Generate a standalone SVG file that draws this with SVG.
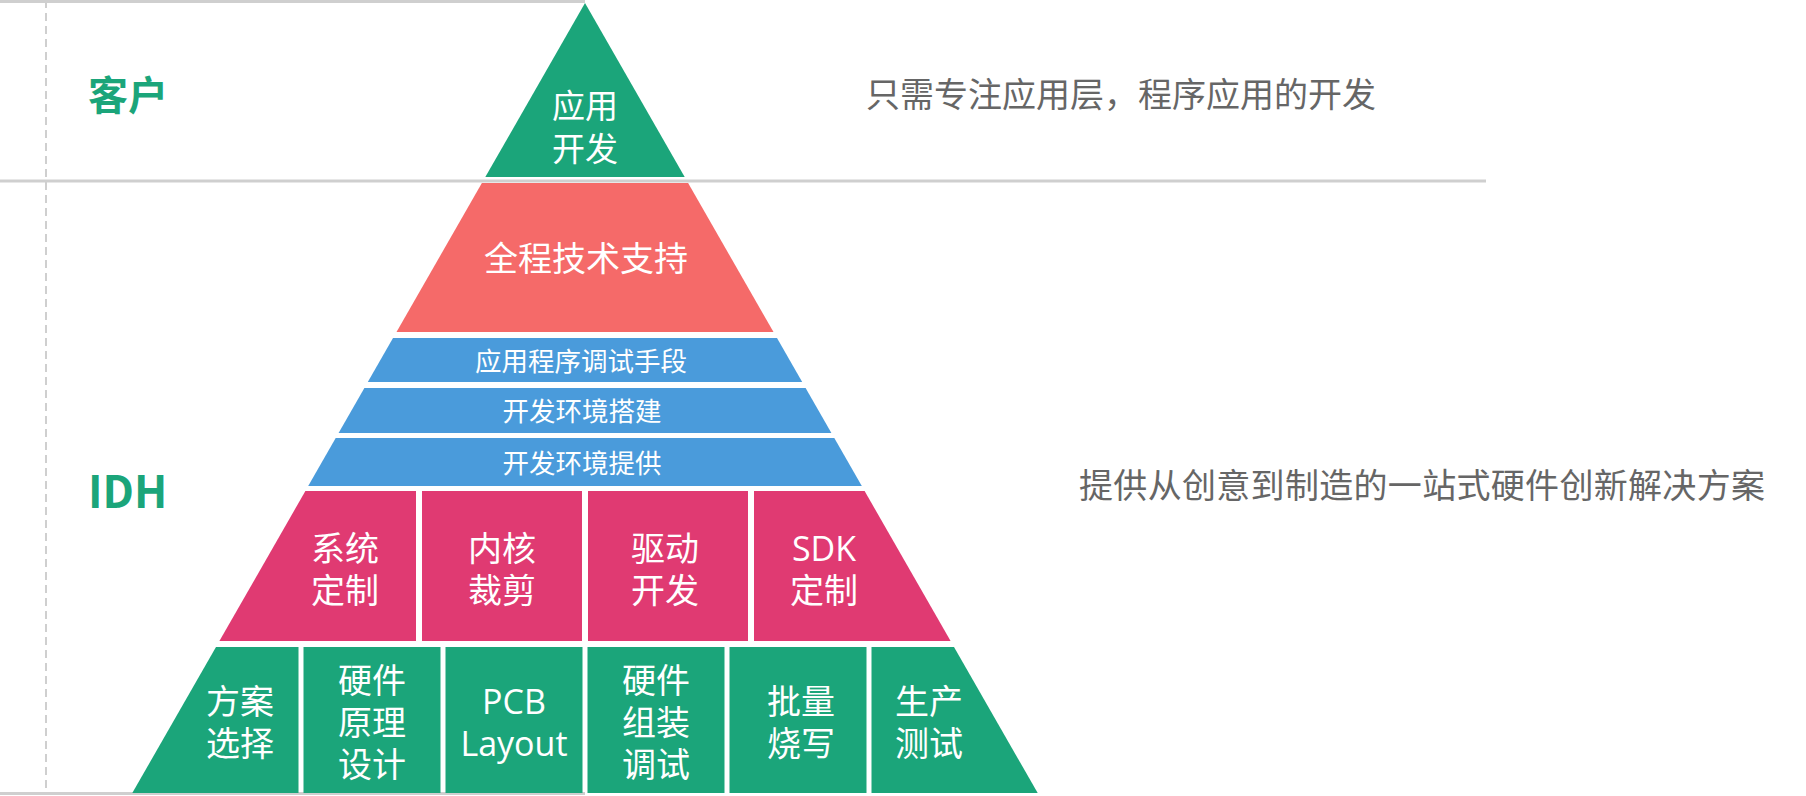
<svg xmlns="http://www.w3.org/2000/svg" width="1806" height="796" viewBox="0 0 1806 796">
<style>
.t{font-family:"Open Sans","Noto Sans CJK SC",sans-serif;fill:#fff;text-anchor:middle;dominant-baseline:central}
.side{font-family:"Noto Sans CJK SC",sans-serif;font-weight:bold;fill:#1ba57a;dominant-baseline:central}
.desc{font-family:"Noto Sans CJK SC",sans-serif;fill:#666;font-size:34px;dominant-baseline:central}
.g{fill:#1ba57a}.r{fill:#f56a69}.b{fill:#4a9bdb}.m{fill:#e03a72}
.ln{stroke:#cfcfcf;stroke-width:3;fill:none}
</style>
<rect width="1806" height="796" fill="#fff"/>
<g id="guides">
<line class="ln" x1="0" y1="1.5" x2="585" y2="1.5"/>
<line class="ln" x1="0" y1="181" x2="1486" y2="181"/>
<line class="ln" x1="0" y1="793.5" x2="585" y2="793.5"/>
<line x1="46" y1="0" x2="46" y2="790" stroke="#cfcfcf" stroke-width="2" stroke-dasharray="8 5"/>
</g>
<g id="label-customer"><text class="side" x="88" y="93" font-size="40">客户</text></g>
<g id="label-idh"><text class="side" x="88" y="489" font-size="44">IDH</text></g>
<g id="desc-customer"><text class="desc" x="866" y="92">只需专注应用层，程序应用的开发</text></g>
<g id="desc-idh"><text class="desc" x="1079" y="483" textLength="686" lengthAdjust="spacing">提供从创意到制造的一站式硬件创新解决方案</text></g>

<g id="app-dev">
<polygon class="g" points="585,3 485.3,177 684.7,177"/>
<text class="t" x="585" y="105" font-size="33">应用</text>
<text class="t" x="585" y="148" font-size="33">开发</text>
</g>
<g id="support">
<polygon class="r" points="481.9,183 688.1,183 773.5,332 396.5,332"/>
<text class="t" x="586" y="258" font-size="34">全程技术支持</text>
</g>
<g id="debug">
<polygon class="b" points="393,338 777,338 802.2,382 367.8,382"/>
<text class="t" x="581" y="361" font-size="26.5">应用程序调试手段</text>
</g>
<g id="env-build">
<polygon class="b" points="364.4,388 805.6,388 831.4,433 338.6,433"/>
<text class="t" x="582" y="411" font-size="26.5">开发环境搭建</text>
</g>
<g id="env-provide">
<polygon class="b" points="335.7,438 834.3,438 861.8,486 308.2,486"/>
<text class="t" x="582" y="463" font-size="26.5">开发环境提供</text>
</g>

<g id="sys-custom">
<polygon class="m" points="305.4,491 416,491 416,641 219.4,641"/>
<text class="t" x="345" y="548" font-size="34">系统</text>
<text class="t" x="345" y="590" font-size="34">定制</text>
</g>
<g id="kernel">
<rect class="m" x="422" y="491" width="160" height="150"/>
<text class="t" x="502" y="548" font-size="34">内核</text>
<text class="t" x="502" y="590" font-size="34">裁剪</text>
</g>
<g id="driver">
<rect class="m" x="588" y="491" width="160" height="150"/>
<text class="t" x="665" y="548" font-size="34">驱动</text>
<text class="t" x="665" y="590" font-size="34">开发</text>
</g>
<g id="sdk">
<polygon class="m" points="754,491 864.6,491 950.6,641 754,641"/>
<text class="t" x="824" y="548" font-size="34">SDK</text>
<text class="t" x="824" y="590" font-size="34">定制</text>
</g>

<g id="scheme">
<polygon class="g" points="216,647 298.5,647 298.5,793 132.3,793"/>
<text class="t" x="240" y="701" font-size="34">方案</text>
<text class="t" x="240" y="743" font-size="34">选择</text>
</g>
<g id="schematic">
<rect class="g" x="303.5" y="647" width="137" height="146"/>
<text class="t" x="372" y="680" font-size="34">硬件</text>
<text class="t" x="372" y="722" font-size="34">原理</text>
<text class="t" x="372" y="764" font-size="34">设计</text>
</g>
<g id="pcb">
<rect class="g" x="445.5" y="647" width="137" height="146"/>
<text class="t" x="514" y="701" font-size="34">PCB</text>
<text class="t" x="514" y="743" font-size="34">Layout</text>
</g>
<g id="assembly">
<rect class="g" x="587.5" y="647" width="137" height="146"/>
<text class="t" x="656" y="680" font-size="34">硬件</text>
<text class="t" x="656" y="722" font-size="34">组装</text>
<text class="t" x="656" y="764" font-size="34">调试</text>
</g>
<g id="flash">
<rect class="g" x="729.5" y="647" width="137" height="146"/>
<text class="t" x="801" y="701" font-size="34">批量</text>
<text class="t" x="801" y="743" font-size="34">烧写</text>
</g>
<g id="test">
<polygon class="g" points="871.5,647 954,647 1037.7,793 871.5,793"/>
<text class="t" x="929" y="701" font-size="34">生产</text>
<text class="t" x="929" y="743" font-size="34">测试</text>
</g>
<g id="connectors"></g>
</svg>
